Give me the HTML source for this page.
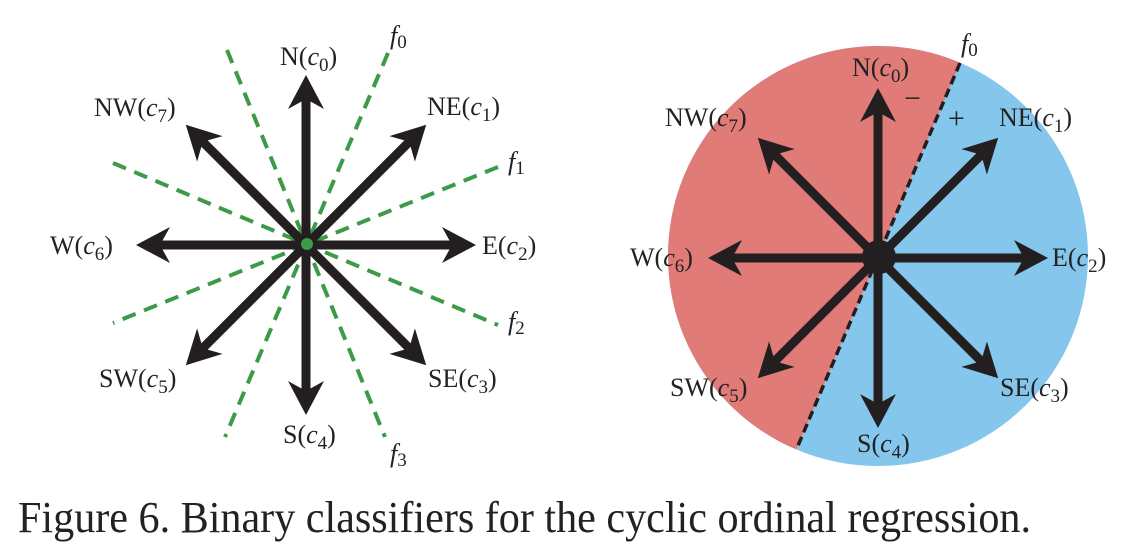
<!DOCTYPE html>
<html><head><meta charset="utf-8"><style>
html,body{margin:0;padding:0;background:#fff;width:1132px;height:556px;overflow:hidden;}
svg{display:block;}
text{font-family:"Liberation Serif",serif;fill:#222;}
.lb{font-size:26px;}
.it{font-style:italic;}
</style></head><body>
<svg width="1132" height="556" viewBox="0 0 1132 556" xmlns="http://www.w3.org/2000/svg">
<defs>
<clipPath id="cc"><circle cx="878" cy="256" r="210"/></clipPath>
</defs>

<!-- LEFT diagram -->
<g stroke="#3c9a48" stroke-width="4" stroke-dasharray="14,9" fill="none">
<line x1="388" y1="53" x2="225" y2="437"/>
<line x1="227" y1="50" x2="385" y2="437"/>
<line x1="498" y1="167" x2="113" y2="323"/>
<line x1="113" y1="163" x2="498" y2="325"/>
</g>
<g id="arrL"></g>
<circle cx="307" cy="244" r="6" fill="#3c9a48"/>

<g class="lb">
<text x="280" y="65">N(<tspan class="it">c</tspan><tspan font-size="19" dy="6">0</tspan><tspan dy="-6">)</tspan></text>
<text x="94" y="116">NW(<tspan class="it">c</tspan><tspan font-size="19" dy="6">7</tspan><tspan dy="-6">)</tspan></text>
<text x="427" y="115">NE(<tspan class="it">c</tspan><tspan font-size="19" dy="6">1</tspan><tspan dy="-6">)</tspan></text>
<text x="50" y="254">W(<tspan class="it">c</tspan><tspan font-size="19" dy="6">6</tspan><tspan dy="-6">)</tspan></text>
<text x="482" y="254">E(<tspan class="it">c</tspan><tspan font-size="19" dy="6">2</tspan><tspan dy="-6">)</tspan></text>
<text x="99" y="387">SW(<tspan class="it">c</tspan><tspan font-size="19" dy="6">5</tspan><tspan dy="-6">)</tspan></text>
<text x="428" y="387">SE(<tspan class="it">c</tspan><tspan font-size="19" dy="6">3</tspan><tspan dy="-6">)</tspan></text>
<text x="283" y="443">S(<tspan class="it">c</tspan><tspan font-size="19" dy="6">4</tspan><tspan dy="-6">)</tspan></text>
<text x="390" y="44"><tspan class="it">f</tspan><tspan font-size="19" dy="4">0</tspan></text>
<text x="508" y="170"><tspan class="it">f</tspan><tspan font-size="19" dy="4">1</tspan></text>
<text x="508" y="330"><tspan class="it">f</tspan><tspan font-size="19" dy="4">2</tspan></text>
<text x="390" y="462"><tspan class="it">f</tspan><tspan font-size="19" dy="4">3</tspan></text>
</g>

<!-- RIGHT diagram -->
<circle cx="878" cy="256" r="210" fill="#85c6ec"/>
<polygon clip-path="url(#cc)" points="960,63 1010,-60 600,-60 600,600 740,600 797,448" fill="#e07b78"/>
<line x1="960" y1="63" x2="797" y2="448" stroke="#231f20" stroke-width="3.5" stroke-dasharray="9,5"/>
<g id="arrR"></g>
<circle cx="879" cy="257" r="17" fill="#231f20"/>

<g class="lb">
<text x="852" y="76">N(<tspan class="it">c</tspan><tspan font-size="19" dy="6">0</tspan><tspan dy="-6">)</tspan></text>
<text x="665" y="126">NW(<tspan class="it">c</tspan><tspan font-size="19" dy="6">7</tspan><tspan dy="-6">)</tspan></text>
<text x="999" y="126">NE(<tspan class="it">c</tspan><tspan font-size="19" dy="6">1</tspan><tspan dy="-6">)</tspan></text>
<text x="630" y="266">W(<tspan class="it">c</tspan><tspan font-size="19" dy="6">6</tspan><tspan dy="-6">)</tspan></text>
<text x="1052" y="266">E(<tspan class="it">c</tspan><tspan font-size="19" dy="6">2</tspan><tspan dy="-6">)</tspan></text>
<text x="670" y="396">SW(<tspan class="it">c</tspan><tspan font-size="19" dy="6">5</tspan><tspan dy="-6">)</tspan></text>
<text x="1000" y="396">SE(<tspan class="it">c</tspan><tspan font-size="19" dy="6">3</tspan><tspan dy="-6">)</tspan></text>
<text x="857" y="452">S(<tspan class="it">c</tspan><tspan font-size="19" dy="6">4</tspan><tspan dy="-6">)</tspan></text>
<text x="961" y="52"><tspan class="it">f</tspan><tspan font-size="19" dy="4">0</tspan></text>
</g>
<text x="904" y="108" font-size="30">−</text>
<text x="948" y="128" font-size="30">+</text>

<!-- caption -->
<text x="18" y="532" font-size="44" textLength="1013" lengthAdjust="spacingAndGlyphs">Figure 6. Binary classifiers for the cyclic ordinal regression.</text>
</svg>
<script>
(function(){
  var NS="http://www.w3.org/2000/svg";
  function draw(gid,cx,cy,L){
    var g=document.getElementById(gid), s="";
    for(var k=0;k<8;k++){
      var a=k*Math.PI/4, ux=Math.cos(a), uy=Math.sin(a);
      var tx=cx+L*ux, ty=cy+L*uy, px=-uy, py=ux;
      var ex=tx-24*ux, ey=ty-24*uy;
      s+='<line x1="'+cx+'" y1="'+cy+'" x2="'+ex+'" y2="'+ey+'" stroke="#231f20" stroke-width="9"/>';
      var p=[[tx,ty],[tx-34*ux+18*px,ty-34*uy+18*py],[tx-24*ux,ty-24*uy],[tx-34*ux-18*px,ty-34*uy-18*py]];
      s+='<polygon fill="#231f20" points="'+p.map(function(q){return q[0].toFixed(1)+','+q[1].toFixed(1);}).join(' ')+'"/>';
    }
    g.innerHTML=s;
  }
  draw("arrL",306,245,170);
  draw("arrR",878,258,170);
})();
</script>
</body></html>
